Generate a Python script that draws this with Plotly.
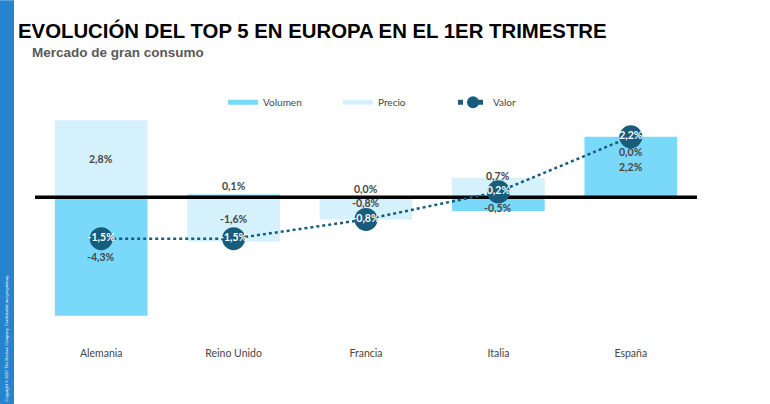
import plotly.graph_objects as go

categories = ["Alemania", "Reino Unido", "Francia", "Italia", "España"]
volumen = [-4.3, 0.1, 0.0, -0.5, 2.2]
precio = [2.8, -1.6, -0.8, 0.7, 0.0]
valor = [-1.5, -1.5, -0.8, 0.2, 2.2]

# pixel nudges for the data labels (style only)
vol_shift = [0, 10, 8, -4, 0]
pre_shift = [0, 0, 5, 12, -15]

C_VOL = "rgb(122,216,250)"
C_PRE = "rgb(212,241,252)"
C_VAL = "rgb(24,92,124)"
C_TXT = "rgb(70,70,70)"
FONT = "Lato"

def fmt(v):
    return f"{v:.1f}".replace(".", ",") + "%"

xs = list(range(len(categories)))
fig = go.Figure()

fig.add_trace(go.Bar(x=xs, y=volumen, marker=dict(color=C_VOL, line=dict(width=0)),
                     width=0.7, showlegend=False, hoverinfo="skip"))
fig.add_trace(go.Bar(x=xs, y=precio, marker=dict(color=C_PRE, line=dict(width=0)),
                     width=0.7, showlegend=False, hoverinfo="skip"))

# legend-only entries
fig.add_trace(go.Scatter(x=[None], y=[None], mode="lines", name="Volumen",
                         line=dict(color=C_VOL, width=6)))
fig.add_trace(go.Scatter(x=[None], y=[None], mode="lines", name="Precio",
                         line=dict(color=C_PRE, width=6)))

# zero line above bars, below the Valor line
fig.add_trace(go.Scatter(x=[-0.5, len(categories) - 0.5], y=[0, 0], mode="lines",
                         line=dict(color="black", width=3.5), showlegend=False,
                         hoverinfo="skip"))

fig.add_trace(go.Scatter(x=xs, y=valor, mode="lines+markers", name="Valor",
                         line=dict(color=C_VAL, width=2.5, dash="dot"),
                         marker=dict(color=C_VAL, size=23)))
fig.add_trace(go.Scatter(x=xs, y=valor, mode="text", text=[fmt(v) for v in valor],
                         textposition="middle center", showlegend=False,
                         textfont=dict(color="white", size=10.5, family=FONT, weight="bold"),
                         hoverinfo="skip"))

# bar data labels (relative stacking)
annotations = []
for i in xs:
    v, p = volumen[i], precio[i]
    pos, neg = 0.0, 0.0
    centers = {}
    for key, val in (("v", v), ("p", p)):
        if val >= 0:
            centers[key] = pos + val / 2
            pos += val
        else:
            centers[key] = neg + val / 2
            neg += val
    annotations.append(dict(x=i, y=centers["v"], text=fmt(v), showarrow=False,
                            yshift=vol_shift[i],
                            font=dict(size=10.5, color=C_TXT, family=FONT, weight="bold")))
    annotations.append(dict(x=i, y=centers["p"], text=fmt(p), showarrow=False,
                            yshift=pre_shift[i],
                            font=dict(size=10.5, color=C_TXT, family=FONT, weight="bold")))

# subtitle
annotations.append(dict(xref="paper", yref="paper", x=-0.0076, y=1.2086,
                        xanchor="left", yanchor="middle", showarrow=False,
                        text="Mercado de gran consumo",
                        font=dict(size=13.5, color="rgb(89,89,89)",
                                  family="Liberation Sans", weight="bold")))
# copyright on left strip
annotations.append(dict(xref="paper", yref="paper", x=-0.0423, y=-0.011,
                        xanchor="center", yanchor="middle", showarrow=False,
                        textangle=-90,
                        text="Copyright © 2017 The Nielsen Company. Confidential and proprietary.",
                        font=dict(size=4.1, color="white", family="Liberation Sans")))

fig.update_layout(
    width=770, height=404,
    margin=dict(l=35, r=73, t=101, b=69, autoexpand=False),
    paper_bgcolor="white", plot_bgcolor="white",
    barmode="relative",
    title=dict(text="EVOLUCIÓN DEL TOP 5 EN EUROPA EN EL 1ER TRIMESTRE",
               xref="container", yref="container", x=18 / 770, xanchor="left",
               y=1 - 31 / 404, yanchor="middle",
               font=dict(size=20.35, color="black", family="Liberation Sans", weight="bold")),
    xaxis=dict(range=[-0.5, len(categories) - 0.5], tickvals=xs, ticktext=categories,
               showgrid=False, zeroline=False, showline=False,
               ticks="outside", ticklen=8, tickcolor="rgba(0,0,0,0)",
               tickfont=dict(size=10.5, color=C_TXT, family=FONT)),
    yaxis=dict(range=[-5, 3.5], visible=False, showgrid=False, zeroline=False),
    legend=dict(orientation="h", x=0.284, y=0.995, xanchor="left", yanchor="middle",
                font=dict(size=10, color=C_TXT, family=FONT),
                entrywidth=70, entrywidthmode="pixels", itemsizing="constant",
                bgcolor="rgba(0,0,0,0)"),
    annotations=annotations,
    shapes=[dict(type="rect", xref="paper", yref="paper",
                 x0=-0.0529, x1=-0.0317, y0=-0.297, y1=1.431,
                 fillcolor="rgb(38,132,206)", line=dict(width=0), layer="below")],
)

fig.write_html("out.html", config={"displayModeBar": False},
               post_script="document.body.style.margin='0px';document.body.style.padding='0px';")
